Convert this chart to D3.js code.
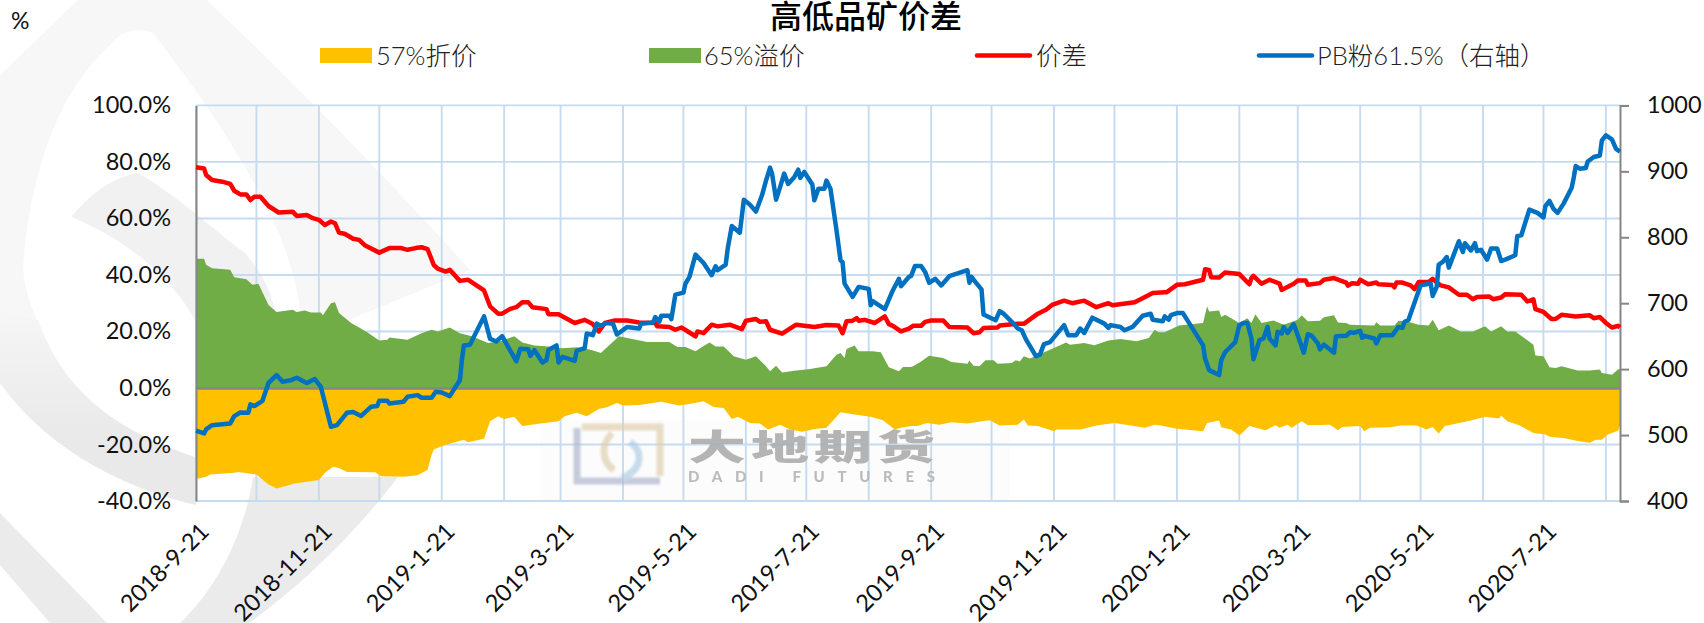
<!DOCTYPE html>
<html><head><meta charset="utf-8">
<script src="https://cdn.jsdelivr.net/npm/d3@7"></script>
<style>
html,body{margin:0;padding:0;background:#fff;overflow:hidden}
svg{display:block}
text{font-family:Lato,"Noto Sans CJK SC",sans-serif;fill:#111}
.cjk{font-family:Lato,"Noto Sans CJK SC",sans-serif;font-weight:300}
</style></head><body><div id="c"></div>
<script>
const startDate = "2018-09-21";
const titleText = "高低品矿价差";
const unitText = "%";
const leftTicks = [-40,-20,0,20,40,60,80,100];
const rightTicks = [400,500,600,700,800,900,1000];
const tickLabels = ["2018-9-21","2018-11-21","2019-1-21","2019-3-21","2019-5-21","2019-7-21","2019-9-21","2019-11-21","2020-1-21","2020-3-21","2020-5-21","2020-7-21"];
const gridMonths = ["2018-9-21","2018-10-21","2018-11-21","2018-12-21","2019-1-21","2019-2-21","2019-3-21","2019-4-21","2019-5-21","2019-6-21","2019-7-21","2019-8-21","2019-9-21","2019-10-21","2019-11-21","2019-12-21","2020-1-21","2020-2-21","2020-3-21","2020-4-21","2020-5-21","2020-6-21","2020-7-21","2020-8-21"];
const lastDay = 707;

// each entry: [days since 2018-9-21, value]
const spreadRed = [[0,78.1],[4,77.7],[5,75.4],[8,73.6],[13,73],[17,72.2],[19,69.8],[22,68.5],[25,68.5],[27,66.5],[29,67.7],[32,67.7],[36,64.4],[41,62.1],[48,62.4],[50,60.9],[55,61.2],[58,60.1],[61,59.5],[64,57.7],[67,58.9],[69,58.3],[71,55],[74,54.5],[78,52.8],[81,52.4],[84,50.4],[91,47.9],[96,49.5],[102,49.5],[105,48.9],[109,49.5],[112,49.8],[115,49.1],[118,43.6],[120,42.2],[124,41.2],[126,41.8],[131,37.9],[135,38.3],[143,34.5],[146,28.9],[150,26.3],[152,26.3],[156,28],[159,28.6],[162,30.3],[165,30.3],[167,28.6],[174,27.9],[175,26.1],[180,26.1],[188,23],[193,24.1],[197,22.6],[200,20],[203,23],[208,23.9],[214,23.9],[220,23.2],[228,23],[229,21.8],[235,21.6],[238,20.6],[241,21.4],[248,18.3],[249,20],[252,19.4],[256,22.4],[259,21.8],[265,22.4],[271,20.8],[273,23.8],[278,24.4],[280,23.4],[283,23.6],[285,20.6],[291,19.2],[298,22.4],[307,21.6],[313,22.3],[319,22.1],[321,19.4],[323,23.6],[326,23.8],[328,24.7],[329,23.8],[332,24.1],[337,23],[342,25.3],[344,22.6],[346,22],[350,20],[354,21],[356,22],[360,22],[362,23.4],[365,23.9],[371,23.9],[374,21.6],[383,21.4],[386,19.4],[389,19.7],[391,21.2],[398,21.4],[399,22.1],[408,22.7],[411,22.7],[418,26.3],[422,27.7],[425,29.4],[431,30.9],[435,30],[441,30.9],[447,28.6],[453,30],[455,29.3],[466,30.3],[469,31.4],[475,33.6],[481,33.9],[482,33.9],[487,36.5],[491,36.7],[500,38.3],[501,42],[503,41.8],[504,39.2],[508,39.1],[511,40.9],[518,40.3],[523,36.7],[524,38.9],[525,39.7],[529,36.9],[533,38.3],[538,36.9],[539,34.7],[545,36.9],[547,38],[551,38],[552,36.5],[558,37.1],[560,38.3],[565,38.9],[571,37.3],[572,36.2],[574,37.1],[577,36.9],[578,38.3],[582,36.7],[586,37.3],[587,36.7],[594,36.4],[595,35.6],[596,37.3],[599,37.3],[603,36.3],[605,35],[607,37.5],[612,37.5],[614,38.6],[618,36.3],[622,35.6],[627,33],[631,33],[634,31.4],[636,32.2],[642,32.4],[644,31.4],[648,32],[650,33.2],[658,33],[661,30.6],[664,31.4],[665,27.9],[669,26.9],[673,24.4],[675,24.4],[678,25.9],[685,25.3],[692,25.7],[694,24.7],[697,25.1],[700,23],[703,21.4],[706,22],[707,21.4]];

const pbBlue = [[0,506.6],[4,502.5],[5,508.6],[8,515],[17,517.7],[19,528.8],[22,534.3],[26,534],[27,546.5],[29,544],[33,552],[36,579],[40,591],[43,581],[47,583],[50,587],[55,579],[59,585],[62,573],[67,512.6],[70,515],[75,534],[78,535],[82,529],[87,543],[90,544],[91,552],[95,552],[96,548],[103,550.5],[105,558],[110,560.6],[112,556.6],[117,556.6],[119,565.7],[122,564.6],[126,559],[128,569],[131,583],[132,613.6],[133,636],[136,637],[143,680],[144,669],[146,646],[149,642],[152,650],[159,612],[161,631],[165,630],[166,620],[168,629],[172,610],[174,613.6],[175,629],[179,636],[180,610],[182,618.7],[188,612.6],[189,627.8],[193,632],[194,654],[197,651.5],[199,669],[201,665.7],[204,670],[207,669],[209,652.5],[214,664],[220,661.6],[221,669],[227,670.7],[228,679],[230,671.7],[231,681],[235,681],[236,675.8],[238,713],[242,716],[243,729.8],[245,740],[248,773.7],[252,761],[256,742.4],[258,756],[259,750],[263,758.6],[264,783],[266,817],[270,807],[272,857],[275,849.5],[278,839],[281,863.6],[283,886],[285,905.6],[286,896.5],[288,857],[290,876],[292,896.5],[294,881],[297,891],[299,902.5],[300,890],[302,899],[306,880],[307,856],[309,873.7],[312,873.7],[313,886],[315,873.7],[318,810.6],[320,765],[321,762.6],[322,729.8],[326,709.6],[329,724.7],[334,721.7],[335,697],[336,703],[342,691],[346,719.7],[349,737],[350,725.8],[354,740],[355,741],[357,756.6],[360,756.6],[362,747.5],[364,731],[367,737],[370,727],[374,741],[383,750],[384,731],[385,740],[387,732],[390,721],[391,682.8],[397,674],[399,688],[401,684],[405,671.7],[408,661.6],[410,659],[412,645.5],[417,619.7],[419,622],[421,638],[424,641],[431,666.7],[433,651.5],[437,651.5],[439,661.6],[441,655],[445,678],[451,669],[453,662.6],[454,666.7],[459,664],[461,659],[465,664],[470,681],[474,684],[475,675],[480,672.7],[481,680],[483,675],[484,682],[487,685],[490,685],[500,636],[501,616],[503,598.5],[508,591],[509,613.6],[511,626],[516,641],[518,666.7],[520,670],[522,670],[524,646.5],[525,615],[528,644],[530,646.5],[532,664],[533,646.5],[536,636],[537,656.6],[539,654],[540,664],[542,655],[545,668],[547,651.5],[550,625],[552,653],[554,650.5],[557,639],[558,630],[560,637],[565,625],[566,650],[571,650.5],[573,656],[575,655],[578,658],[579,647.5],[580,650.5],[585,646.5],[586,639],[588,651.5],[594,651.5],[597,664],[599,662.6],[600,671.7],[602,675],[606,709.6],[608,727],[613,730],[614,711],[616,724.7],[617,758.6],[619,762.6],[621,770],[622,754],[627,794],[629,777.8],[630,791],[633,780],[635,791],[636,779],[638,781],[641,766],[643,783],[646,783],[648,764],[650,766],[655,772.7],[656,802],[658,803],[662,842],[666,837],[669,830],[670,847.5],[672,855],[674,843],[676,837],[679,851],[683,875],[684,890],[685,908],[687,904],[690,905],[691,915],[694,921.7],[697,924],[698,947],[700,954.5],[703,948.5],[705,934],[707,930]];

const premium65 = [[0,45.7],[4,45.7],[5,43.6],[8,42.4],[17,41.8],[19,39.2],[25,38.5],[28,36.5],[31,36.9],[36,29.4],[40,26.9],[48,27.7],[50,26.9],[54,27.4],[57,26.7],[62,26.7],[63,25.7],[67,30],[69,30.3],[71,26.5],[77,23],[81,21.4],[85,19.7],[91,16.8],[95,17.1],[96,17.9],[105,17.1],[112,19.4],[117,20.6],[120,20],[126,21.4],[131,19.4],[137,18.3],[145,15.9],[151,16.5],[158,18.3],[162,16.1],[168,15],[175,14.7],[182,14.1],[189,14.4],[196,13.5],[201,12.4],[210,18.3],[216,17.4],[224,16.3],[235,16.3],[239,14.5],[243,14.5],[248,13],[251,14.4],[255,16.1],[258,14.7],[262,14.7],[267,11.2],[273,10],[278,11.2],[283,7.7],[285,5.9],[288,7.9],[291,5.5],[297,6.1],[305,6.7],[307,7],[313,7.7],[318,11.8],[320,12.4],[322,10.6],[323,13.8],[327,15],[329,13],[336,13],[340,12.6],[344,7.3],[349,5.9],[351,7.4],[355,7.4],[356,7.7],[360,9.4],[364,11.4],[371,10.6],[375,9.2],[383,8.6],[384,9.7],[386,7.9],[389,7.7],[392,9.8],[396,9.8],[398,8.6],[405,8.8],[407,9.8],[409,9.4],[411,11.2],[414,10.4],[424,13.5],[432,16.1],[434,15.3],[441,15.9],[446,15.1],[453,16.8],[459,17.3],[467,16.5],[473,17.7],[476,20.6],[478,19.7],[481,19.7],[488,22.1],[500,23],[502,28.9],[503,27.1],[508,27.4],[509,25.1],[511,25.9],[518,23],[522,24.7],[524,23],[526,26.1],[529,23],[535,23.9],[540,22.4],[547,24.1],[549,25.7],[552,23.6],[558,23.8],[560,25],[565,25.7],[567,23.2],[571,23],[573,22.4],[585,22.1],[586,23.3],[588,22.1],[595,22.1],[597,23.8],[601,23.6],[607,22.4],[612,22.1],[614,24.1],[617,20.4],[622,22.1],[628,20],[634,20],[640,21.8],[643,20],[648,21.8],[651,20],[655,20],[664,15.3],[665,11.5],[669,11.2],[672,7.3],[675,7.1],[678,7.7],[686,6.2],[692,6.2],[697,6.5],[698,5.3],[703,4.7],[706,6.5],[707,6.7]];

const discount57 = [[0,-32.2],[5,-31.4],[7,-30.6],[19,-30],[21,-29.7],[30,-30.6],[36,-34.2],[40,-35.6],[49,-33.8],[61,-32.6],[64,-30],[68,-27.9],[71,-28.3],[75,-29.7],[89,-29.8],[92,-31.2],[103,-31.4],[110,-30.9],[115,-28.9],[117,-23.6],[118,-21.8],[123,-20.4],[133,-18.3],[135,-19.2],[143,-18],[146,-11.8],[150,-10],[153,-11],[158,-10.2],[162,-13.5],[171,-12.6],[180,-11.8],[183,-10],[189,-8.8],[194,-10],[200,-7.4],[204,-6.8],[209,-5.3],[212,-6.2],[220,-6],[231,-4.9],[240,-6.2],[245,-5.7],[252,-4.7],[257,-6.7],[262,-7.1],[266,-11],[269,-10.2],[275,-12.4],[280,-12.6],[284,-14.7],[290,-13],[295,-14.7],[301,-15.5],[307,-14.5],[313,-14.1],[320,-8.6],[327,-9.4],[335,-10.2],[341,-11.4],[347,-14.7],[350,-14.1],[355,-13.5],[358,-13.5],[363,-12.4],[369,-13],[375,-12.1],[383,-12.6],[390,-11.8],[394,-11.4],[399,-13.3],[408,-13],[411,-11.2],[413,-13.3],[418,-13.5],[426,-15.3],[427,-14.7],[439,-14.7],[447,-13.3],[456,-12.4],[464,-13.3],[471,-14.1],[476,-13],[479,-13.3],[487,-14.4],[500,-15.3],[502,-12.4],[508,-11.5],[509,-13.9],[514,-14.7],[518,-16.8],[523,-13.5],[531,-15],[536,-13.2],[538,-14.1],[542,-13],[544,-14.1],[549,-11.8],[552,-13.2],[563,-13],[567,-15],[569,-13.8],[578,-13.5],[580,-15.3],[583,-14.1],[593,-13.9],[598,-13.3],[606,-13.3],[611,-14.7],[614,-13.8],[617,-16.1],[620,-13.5],[623,-13],[633,-11.5],[640,-10.2],[647,-10.8],[648,-9.7],[651,-11.8],[657,-13.2],[664,-15.9],[670,-16.5],[672,-17.3],[679,-17.7],[686,-18.8],[692,-19.4],[695,-18.3],[698,-18.3],[701,-16.5],[706,-15.1],[707,-13.5]];

const W = 1704, H = 623;
const M = {left:196, right:1620, top:105.4, bottom:501};
const parse = d3.timeParse("%Y-%m-%d");
const base = parse(startDate);
const toDate = d => d3.timeDay.offset(base, d);
const parseTick = d3.timeParse("%Y-%-m-%-d");

const x = d3.scaleTime().domain([base, toDate(lastDay)]).range([M.left, M.right]);
const yL = d3.scaleLinear().domain([-40,100]).range([M.bottom, M.top]);
const yR = d3.scaleLinear().domain([400,1000]).range([M.bottom, M.top]);

const svg = d3.select("#c").append("svg").attr("width",W).attr("height",H);
const defs = svg.append("defs");
const gradient = defs.append("linearGradient").attr("id","wmFade").attr("gradientUnits","userSpaceOnUse")
  .attr("x1",0).attr("y1",300).attr("x2",0).attr("y2",440);
gradient.append("stop").attr("offset",0).attr("stop-color","#f7f7f7");
gradient.append("stop").attr("offset",1).attr("stop-color","#e9e9e9");
defs.append("filter").attr("id","soft").append("feGaussianBlur").attr("stdDeviation",1.1);

// corporate watermark behind the chart
const wm = svg.append("g");
wm.append("path").attr("fill","#f7f7f7").attr("d","M0,75 L78,0 L207,0 C280,70 380,170 470,270 L300,340 C310,250 220,120 153,33 C140,28 125,28 110,45 C60,90 30,170 23,267 C24,285 30,305 38,322 L0,383 Z");
wm.append("path").attr("fill","#f1f1f1").attr("d","M71,217 C90,195 110,178 138,173 C170,190 220,235 245,253 C265,275 275,300 279,330 L200,330 C180,285 130,240 71,217 Z");
wm.append("path").attr("fill","url(#wmFade)").attr("d","M38,320 C60,380 100,425 195,457 L196,505 C110,485 40,440 0,383 L0,310 Z");
wm.append("path").attr("fill","#ebebeb").attr("d","M253,477 L398,477 C350,540 295,590 249,623 L180,623 C220,585 245,530 253,477 Z");
wm.append("path").attr("fill","#ebebeb").attr("d","M0,513 L107,623 L50,623 L0,565 Z");
wm.append("rect").attr("x",540).attr("y",420).attr("width",470).attr("height",82).attr("fill","#fcfcfc");

// grid
const grid = svg.append("g").attr("stroke","#c6dbef").attr("stroke-width",1.9);
grid.selectAll("line.v").data(gridMonths.map(parseTick)).join("line")
  .attr("x1",x).attr("x2",x).attr("y1",M.top).attr("y2",M.bottom);
grid.selectAll("line.h").data(leftTicks).join("line")
  .attr("x1",M.left).attr("x2",M.right).attr("y1",yL).attr("y2",yL);

// watermark logo on top of grid
const logo = svg.append("g").attr("fill","none").attr("opacity",0.7).attr("filter","url(#soft)");
logo.append("path").attr("stroke","#aeb7cc").attr("stroke-width",7).attr("d","M577,428 L577,481 L660,481");
logo.append("path").attr("stroke","#dfcfae").attr("stroke-width",7).attr("d","M582,427 L660,427 L660,476");
logo.append("path").attr("stroke","#dfcfae").attr("stroke-width",7).attr("d","M612,433 C600,446 602,462 614,470");
logo.append("path").attr("stroke","#b0cde4").attr("stroke-width",7).attr("d","M630,442 C644,452 642,470 622,478");
svg.append("text").text("大地期货").attr("transform","translate(688,460) scale(1,0.6)")
  .attr("textLength",247).attr("lengthAdjust","spacing")
  .style("font-size","58px").style("font-weight","900").style("fill","#adadad").attr("opacity",0.9);
svg.append("text").text("DADI FUTURES").attr("x",688).attr("y",482).attr("textLength",247).attr("lengthAdjust","spacing")
  .style("font-size","15px").style("font-weight","900").style("fill","#b4b4b4").attr("opacity",0.9);

// areas
const area = d3.area().x(d=>x(toDate(d[0]))).y0(yL(0)).y1(d=>yL(d[1]));
svg.append("path").datum(discount57).attr("fill","#ffc000").attr("d",area);
svg.append("path").datum(premium65).attr("fill","#70ad47").attr("d",area);

// axes
function styleAxis(g){
  g.selectAll("path.domain").attr("stroke","#868686").attr("stroke-width",2);
  g.selectAll(".tick line").attr("stroke","#868686").attr("stroke-width",2);
  g.selectAll("text").style("font-size","23.5px").style("font-family","Lato").style("fill","#111");
}
const gL = svg.append("g").attr("transform",`translate(${M.left},0)`)
  .call(d3.axisLeft(yL).tickValues(leftTicks).tickSize(0).tickPadding(25).tickFormat(d=>d.toFixed(1)+"%")).call(styleAxis);
const gR = svg.append("g").attr("transform",`translate(${M.right},0)`)
  .call(d3.axisRight(yR).tickValues(rightTicks).tickSize(9).tickSizeOuter(9).tickPadding(18).tickFormat(d3.format("d"))).call(styleAxis);
const gZ = svg.append("g").attr("transform",`translate(0,${yL(0)})`)
  .call(d3.axisBottom(x).tickValues([]).tickSize(0)).call(styleAxis);
gZ.select("path.domain").attr("stroke-width",2.4);

// date labels
const gB = svg.append("g").attr("transform",`translate(0,${M.bottom})`)
  .call(d3.axisBottom(x).tickValues(tickLabels.map(parseTick)).tickSize(0).tickFormat(d3.timeFormat("%Y-%-m-%-d")));
gB.select("path.domain").remove();
gB.selectAll(".tick text").style("font-size","23.6px").style("font-family","Lato").style("fill","#111")
  .attr("text-anchor","end").attr("dy",0).attr("y",0)
  .attr("transform","translate(14,32) rotate(-45)");

// lines
const lineRed = d3.line().x(d=>x(toDate(d[0]))).y(d=>yL(d[1]));
const lineBlue = d3.line().x(d=>x(toDate(d[0]))).y(d=>yR(d[1]));
svg.append("path").datum(spreadRed).attr("fill","none").attr("stroke","#ff0000").attr("stroke-width",4.5).attr("stroke-linejoin","round").attr("d",lineRed);
svg.append("path").datum(pbBlue).attr("fill","none").attr("stroke","#0070c0").attr("stroke-width",4.5).attr("stroke-linejoin","round").attr("d",lineBlue);

// title, unit
svg.append("text").text(titleText).attr("x",866).attr("y",28).attr("text-anchor","middle")
  .style("font-size","32px").style("font-weight","500").style("fill","#000");
svg.append("text").text(unitText).attr("x",11).attr("y",29).style("font-size","23px");

// legend
const legendItems = ["57%折价","65%溢价","价差","PB粉61.5%（右轴）"];
const legendColors = ["#ffc000","#70ad47","#ff0000","#0070c0"];
const legendX = [320,649,976,1258];
const legendText = [376,704,1036,1317];
const lg = svg.append("g");
legendItems.forEach((t,i)=>{
  if(i<2) lg.append("rect").attr("x",legendX[i]).attr("y",48).attr("width",52).attr("height",15).attr("fill",legendColors[i]);
  else lg.append("line").attr("x1",legendX[i]+1).attr("x2",legendX[i]+54).attr("y1",55.5).attr("y2",55.5).attr("stroke",legendColors[i]).attr("stroke-width",4.5).attr("stroke-linecap","round");
  lg.append("text").attr("class","cjk").text(t).attr("x",legendText[i]).attr("y",64.5).style("font-size","25.5px").style("fill","#222");
});
</script></body></html>
